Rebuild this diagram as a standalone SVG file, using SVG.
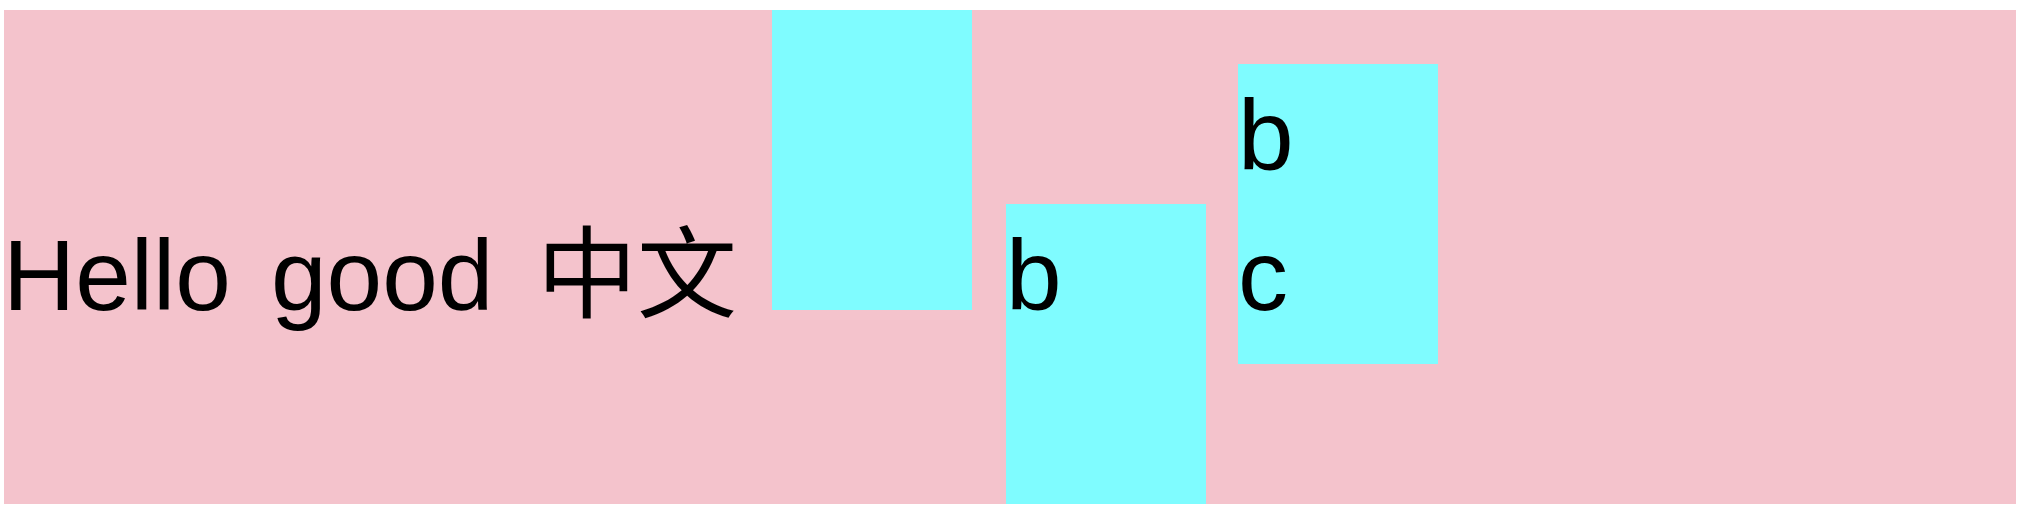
<svg xmlns="http://www.w3.org/2000/svg" width="2030" height="530" viewBox="0 0 2030 530">
<style>
.bg{fill:#f4c3cc}
.box{fill:#7ffcff}
.t{font-family:"Liberation Sans","Noto Sans CJK SC",sans-serif;font-size:100px;fill:#000}
</style>
<rect width="2030" height="530" fill="#ffffff"/>
<g id="container">
<rect class="bg" x="4" y="10" width="2012" height="494"/>
</g>
<g id="label">
<text class="t" y="310"><tspan x="3">Hello</tspan><tspan x="271">good</tspan><tspan x="537">中文</tspan></text>
</g>
<g id="box1">
<rect class="box" x="772" y="10" width="200" height="300"/>
</g>
<g id="box2">
<rect class="box" x="1006" y="204" width="200" height="300"/>
<text class="t" x="1006" y="310">b</text>
</g>
<g id="box3">
<rect class="box" x="1238" y="64" width="200" height="300"/>
<text class="t" x="1238" y="170">b</text>
<text class="t" x="1238" y="310">c</text>
</g>
<g id="connectors"/>
</svg>
